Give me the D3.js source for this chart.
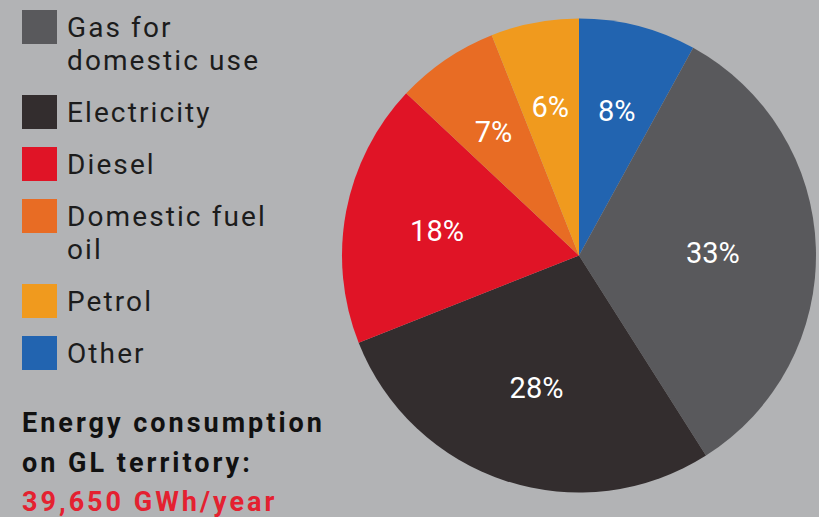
<!DOCTYPE html>
<html>
<head>
<meta charset="utf-8">
<script src="https://cdn.jsdelivr.net/npm/d3@7"></script>
<style>
  html, body { margin: 0; padding: 0; background: #b2b3b5; }
  svg { display: block; }
</style>
</head>
<body>
<svg id="chart" width="819" height="517"></svg>
<script>
// ---- data ----
const categories = ["Gas for domestic use", "Electricity", "Diesel", "Domestic fuel oil", "Petrol", "Other"];
const legendLines = [["Gas for", "domestic use"], ["Electricity"], ["Diesel"], ["Domestic fuel", "oil"], ["Petrol"], ["Other"]];
const values = [33, 28, 18, 7, 6, 8];
const colors = ["#59595c", "#332d2e", "#e01426", "#e86c24", "#f09a1e", "#2264b0"];
// pie drawn clockwise from 12 o'clock in this order
const pieOrder = ["Other", "Gas for domestic use", "Electricity", "Diesel", "Domestic fuel oil", "Petrol"];
const titleLines = ["Energy consumption", "on GL territory:"];
const totalLine = "39,650 GWh/year";

// ---- layout ----
const svg = d3.select("#chart");
const W = 819, H = 517;
svg.append("rect").attr("width", W).attr("height", H).attr("fill", "#b2b3b5");

const cx = 579, cy = 255.5, R = 237;
const color = d3.scaleOrdinal().domain(categories).range(colors);
const valueOf = new Map(categories.map((c, i) => [c, values[i]]));
const pieData = pieOrder.map(c => ({ name: c, value: valueOf.get(c) }));

const pie = d3.pie().value(d => d.value).sort(null);
const arcs = pie(pieData);
const arc = d3.arc().innerRadius(0).outerRadius(R);

const g = svg.append("g").attr("transform", `translate(${cx},${cy})`);
g.selectAll("path.slice").data(arcs).join("path")
  .attr("class", "slice")
  .attr("d", arc)
  .attr("fill", d => color(d.data.name));

// labels: smaller slices placed a bit further out
const labelR = d3.scaleLinear().domain([6, 33]).range([153, 134]);
g.selectAll("text.lbl").data(arcs).join("text")
  .attr("class", "lbl")
  .attr("transform", d => {
    const a = (d.startAngle + d.endAngle) / 2;
    const r = labelR(d.data.value);
    return `translate(${Math.sin(a) * r},${-Math.cos(a) * r})`;
  })
  .attr("text-anchor", "middle")
  .attr("dy", "0.42em")
  .attr("fill", "#ffffff")
  .style("font-family", "Roboto, 'Noto Sans', sans-serif")
  .style("font-size", "29px")
  .text(d => d.data.value + "%");

// legend
const lg = svg.append("g");
let y = 37;
const fontLegend = "Roboto, 'Noto Sans', sans-serif";
legendLines.forEach((lines, i) => {
  lg.append("rect")
    .attr("x", 22).attr("y", y - 27).attr("width", 35).attr("height", 34)
    .attr("fill", colors[i]);
  const t = lg.append("text")
    .attr("x", 67).attr("y", y)
    .attr("fill", "#1c1c1c")
    .style("font-family", fontLegend)
    .style("font-size", "28px")
    .style("letter-spacing", "2.1px");
  lines.forEach((ln, j) => {
    t.append("tspan").attr("x", 67).attr("y", y + j * 32.5).text(ln);
  });
  y += 52 + 33 * (lines.length - 1);
});

// title block
const tg = svg.append("g")
  .style("font-family", fontLegend)
  .style("font-size", "27px")
  .style("font-weight", "bold")
  .style("letter-spacing", "3px");
titleLines.forEach((ln, j) => {
  tg.append("text").attr("x", 22).attr("y", 432 + j * 40).attr("fill", "#111111").text(ln);
});
tg.append("text").attr("x", 22).attr("y", 511).attr("fill", "#e42130").text(totalLine);
</script>
</body>
</html>
